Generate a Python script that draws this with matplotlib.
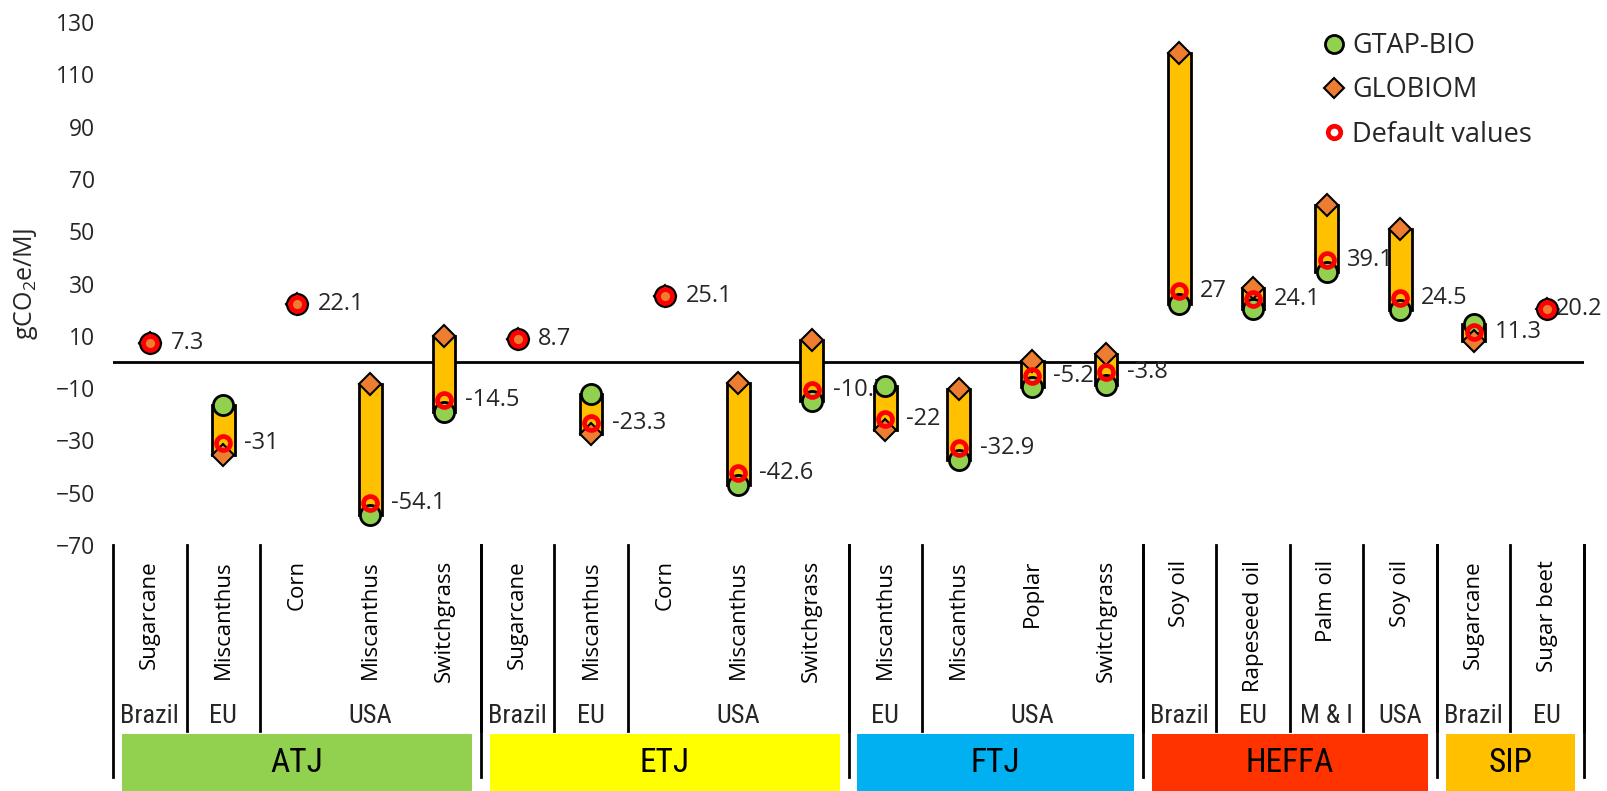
import matplotlib
matplotlib.use('Agg')
import matplotlib.pyplot as plt
import matplotlib.transforms as mtransforms
from matplotlib import font_manager
from matplotlib.lines import Line2D
from matplotlib.patches import Rectangle
import numpy as np

plt.rcParams['font.family'] = ['Open Sans', 'DejaVu Sans']
plt.rcParams['mathtext.fontset'] = 'custom'
plt.rcParams['mathtext.rm'] = 'Open Sans'
plt.rcParams['mathtext.it'] = 'Open Sans'

# feedstocks, left to right
feedstocks = ['Sugarcane', 'Miscanthus', 'Corn', 'Miscanthus', 'Switchgrass',
              'Sugarcane', 'Miscanthus', 'Corn', 'Miscanthus', 'Switchgrass',
              'Miscanthus', 'Miscanthus', 'Poplar', 'Switchgrass',
              'Soy oil', 'Rapeseed oil', 'Palm oil', 'Soy oil',
              'Sugarcane', 'Sugar beet']

gtap_bio = [7.3, -16.5, 22.1, -58.5, -19.0,
            8.7, -12.3, 25.1, -47.0, -15.0,
            -9.3, -37.5, -9.7, -9.0,
            22.2, 20.2, 34.3, 19.8,
            14.5, 20.2]
globiom = [7.3, -35.5, 22.1, -8.6, 10.0,
           8.7, -27.5, 25.1, -8.2, 8.4,
           -26.0, -10.5, 0.2, 2.9,
           118.0, 28.4, 60.0, 50.8,
           7.9, 20.2]
default_vals = [7.3, -31, 22.1, -54.1, -14.5,
                8.7, -23.3, 25.1, -42.6, -10.7,
                -22, -32.9, -5.2, -3.8,
                27, 24.1, 39.1, 24.5,
                11.3, 20.2]

# regions (name, number of feedstocks)
region_names = ['Brazil', 'EU', 'USA', 'Brazil', 'EU', 'USA', 'EU', 'USA',
                'Brazil', 'EU', 'M & I', 'USA', 'Brazil', 'EU']
region_sizes = [1, 1, 3, 1, 1, 3, 1, 3, 1, 1, 1, 1, 1, 1]

# pathways
group_names = ['ATJ', 'ETJ', 'FTJ', 'HEFFA', 'SIP']
group_sizes = [5, 5, 4, 4, 2]
group_colors = ['#92D050', '#FFFF00', '#00B0F0', '#FF3300', '#FFC000']

# narrow font for the region / pathway rows, whichever is installed
installed = {f.name for f in font_manager.fontManager.ttflist}
narrow = [f for f in ['Liberation Sans Narrow', 'Roboto Condensed',
                      'DejaVu Sans Condensed', 'Open Sans Condensed'] if f in installed]
narrow = (narrow[:1] or ['Liberation Sans']) + ['DejaVu Sans']
narrow_stretch = 'condensed'

W, H = 1608, 791
fig = plt.figure(figsize=(W / 100, H / 100), dpi=100)
ax = fig.add_axes([113 / W, 1 - 545 / H, (1584 - 113) / W, (545 - 22) / H])


def fy(px):
    return 1 - px / H


n = len(feedstocks)
x = np.arange(n) + 0.5

for i in range(n):
    lo = min(gtap_bio[i], globiom[i])
    hi = max(gtap_bio[i], globiom[i])
    ax.add_patch(Rectangle((x[i] - 0.155, lo), 0.31, hi - lo, facecolor='#FFC000',
                           edgecolor='black', linewidth=2, zorder=2))

ax.plot(x, gtap_bio, 'o', ms=14.5, mfc='#92D050', mec='black', mew=2, zorder=3)
ax.plot(x, globiom, 'D', ms=11.5, mfc='#ED7D31', mec='black', mew=1.5, zorder=4)
ax.plot(x, default_vals, 'o', ms=10, mfc='none', mec='#FF0000', mew=3.4, zorder=5)

# value labels sit behind the bars, as in the original
for i in range(n):
    dx = 15 if i < n - 1 else 6
    ax.annotate(f'{default_vals[i]:g}', (x[i], default_vals[i]), xytext=(dx, 0),
                textcoords='offset points', ha='left', va='center',
                fontsize=17, color='#262626', zorder=1.5)

ax.axhline(0, color='black', lw=2, zorder=1)
ax.set_xlim(0, n)
ax.set_ylim(-70, 130)
ax.set_yticks(np.arange(-70, 131, 20))
ax.set_xticks([])
ax.tick_params(axis='y', length=0, pad=13, labelsize=16.5, labelcolor='#262626')
for s in ax.spines.values():
    s.set_visible(False)

fig.text(26 / W, fy(284), 'gCO$_2$e/MJ', rotation=90, ha='center', va='center',
         fontsize=18, color='#262626')

# category axis below the plot
trans = mtransforms.blended_transform_factory(ax.transData, fig.transFigure)

for i, name in enumerate(feedstocks):
    ax.text(x[i], fy(560), name, rotation=90, ha='center', va='top',
            fontsize=16, color='black', transform=trans)

pos = 0
for name, size in zip(region_names, region_sizes):
    ax.text(pos + size / 2, fy(716), name, ha='center', va='center', fontsize=19,
            family=narrow, stretch=narrow_stretch, color='#262626', transform=trans)
    pos += size
    ax.add_line(Line2D([pos, pos], [fy(545), fy(731)], color='black', lw=2,
                       transform=trans, clip_on=False))

pos = 0
ax.add_line(Line2D([0, 0], [fy(545), fy(777)], color='black', lw=2,
                   transform=trans, clip_on=False))
for name, size, col in zip(group_names, group_sizes, group_colors):
    ax.add_patch(Rectangle((pos + 0.12, fy(791)), size - 0.24, fy(734) - fy(791),
                           facecolor=col, edgecolor='none', transform=trans,
                           clip_on=False))
    ax.text(pos + size / 2, fy(763), name, ha='center', va='center', fontsize=24,
            family=narrow, stretch=narrow_stretch, color='black', transform=trans)
    pos += size
    ax.add_line(Line2D([pos, pos], [fy(545), fy(777)], color='black', lw=2,
                       transform=trans, clip_on=False))

handles = [
    Line2D([], [], ls='none', marker='o', ms=13, mfc='#92D050', mec='black', mew=2),
    Line2D([], [], ls='none', marker='D', ms=10, mfc='#ED7D31', mec='black', mew=1.5),
    Line2D([], [], ls='none', marker='o', ms=9, mfc='none', mec='#FF0000', mew=3.4),
]
fig.legend(handles, ['GTAP-BIO', 'GLOBIOM', 'Default values'], loc='upper left',
           bbox_to_anchor=(1320 / W, fy(32)), frameon=False, fontsize=19.5,
           handlelength=1.0, handletextpad=0.2, labelspacing=0.6,
           borderaxespad=0, borderpad=0, labelcolor='#262626')

fig.savefig('out.png', dpi=100)
